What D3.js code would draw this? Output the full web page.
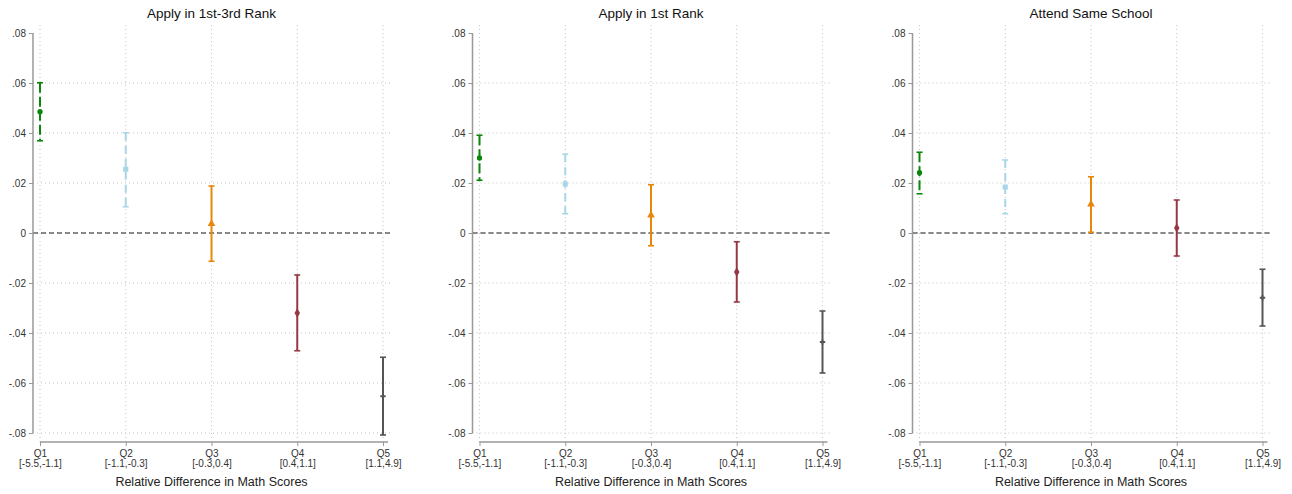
<html>
<head>
    <script src="https://d3js.org/d3.v7.min.js"></script>
    <style>
        body { margin: 0; background: #fff; }
        text { font-family: Arial, "Liberation Sans", Helvetica, sans-serif; }
    </style>
</head>
<body>
    <div id="vis"></div>
</body>
<script>
    // data
    var titles = ["Apply in 1st-3rd Rank", "Apply in 1st Rank", "Attend Same School"];
    var quintiles = ["Q1", "Q2", "Q3", "Q4", "Q5"];
    var ranges = ["[-5.5,-1.1]", "[-1.1,-0.3]", "[-0.3,0.4]", "[0.4,1.1]", "[1.1,4.9]"];
    var yTicks = [-0.08, -0.06, -0.04, -0.02, 0, 0.02, 0.04, 0.06, 0.08];

    var coefRank13 = [0.0485, 0.0255, 0.0037, -0.0320, -0.0653];
    var lowRank13 = [0.0369, 0.0105, -0.0113, -0.0471, -0.0808];
    var highRank13 = [0.0601, 0.0401, 0.0188, -0.0168, -0.0497];

    var coefRank1 = [0.0300, 0.0196, 0.0071, -0.0156, -0.0436];
    var lowRank1 = [0.0211, 0.0077, -0.0051, -0.0276, -0.0560];
    var highRank1 = [0.0391, 0.0315, 0.0193, -0.0035, -0.0312];

    var coefSame = [0.0241, 0.0184, 0.0115, 0.0020, -0.0259];
    var lowSame = [0.0157, 0.0077, 0.0003, -0.0092, -0.0372];
    var highSame = [0.0323, 0.0292, 0.0225, 0.0132, -0.0145];

    var panels = [
        { title: titles[0], coef: coefRank13, low: lowRank13, high: highRank13 },
        { title: titles[1], coef: coefRank1, low: lowRank1, high: highRank1 },
        { title: titles[2], coef: coefSame, low: lowSame, high: highSame }
    ];

    // look of each quintile
    var colors = ["#0b860b", "#a9d6e6", "#e8870c", "#963841", "#555555"];
    var dashes = ["10,4", "8,5", null, null, null];
    var symbols = [d3.symbolCircle, d3.symbolSquare, d3.symbolTriangle, d3.symbolDiamond, d3.symbolCross];
    var symSizes = [22, 26, 26, 26, 16];

    var W = 1292, H = 494;
    var panelX = [0, 439.5, 879.5];

    var svg = d3.select("#vis").append("svg")
        .attr("width", W)
        .attr("height", H);

    var fmt = function (v) {
        if (Math.abs(v) < 1e-9) return "0";
        return (v < 0 ? "-" : "") + Math.abs(v).toFixed(2).replace(/^0/, "");
    };

    panels.forEach(function (p, pi) {
        var g = svg.append("g")
            .attr("transform", "translate(" + panelX[pi] + ",0)");

        var axX = 33, right = 390, axY = 442;

        var x = d3.scaleLinear().domain([1, 5]).range([40, 383]);
        var y = d3.scaleLinear().domain([-0.08, 0.08]).range([433, 33]);

        // title
        g.append("text")
            .attr("x", (axX + right) / 2)
            .attr("y", 18)
            .attr("text-anchor", "middle")
            .style("font-size", "13.5px")
            .style("fill", "#111")
            .text(p.title);

        // grid
        g.append("g").selectAll("line")
            .data(yTicks.filter(function (t) { return t < 0.079; }))
            .enter().append("line")
            .attr("x1", axX).attr("x2", right)
            .attr("y1", function (d) { return y(d); })
            .attr("y2", function (d) { return y(d); })
            .style("stroke", "#c4c4c4")
            .style("stroke-width", 1)
            .style("stroke-dasharray", "1,3");

        g.append("g").selectAll("line")
            .data(d3.range(5))
            .enter().append("line")
            .attr("x1", function (d) { return x(d + 1); })
            .attr("x2", function (d) { return x(d + 1); })
            .attr("y1", 25).attr("y2", axY)
            .style("stroke", "#c4c4c4")
            .style("stroke-width", 1)
            .style("stroke-dasharray", "1,3");

        // zero line
        g.append("line")
            .attr("x1", axX).attr("x2", right)
            .attr("y1", y(0)).attr("y2", y(0))
            .style("stroke", "#1a1a1a")
            .style("stroke-width", 1.2)
            .style("stroke-dasharray", "5,3");

        // y axis
        var yAxis = g.append("g")
            .attr("transform", "translate(" + axX + ",0)")
            .call(d3.axisLeft(y).tickValues(yTicks).tickFormat(fmt).tickSize(4).tickPadding(3));
        yAxis.select(".domain").remove();
        yAxis.append("line")
            .attr("x1", 0).attr("x2", 0)
            .attr("y1", y(0.08)).attr("y2", y(-0.08))
            .style("stroke", "#999").style("stroke-width", 1.5);
        yAxis.selectAll(".tick line").style("stroke", "#999");
        yAxis.selectAll(".tick text")
            .style("font-size", "10px")
            .style("fill", "#333")
            .style("font-family", "Arial, 'Liberation Sans', sans-serif");

        // x axis
        var xAxis = g.append("g")
            .attr("transform", "translate(0," + axY + ")")
            .call(d3.axisBottom(x).tickValues([1, 2, 3, 4, 5]).tickFormat("").tickSize(4));
        xAxis.select(".domain").remove();
        xAxis.append("line")
            .attr("x1", x(1)).attr("x2", 388)
            .attr("y1", 0).attr("y2", 0)
            .style("stroke", "#999").style("stroke-width", 1.5);
        xAxis.selectAll(".tick line").style("stroke", "#999");
        xAxis.selectAll(".tick").each(function (d, i) {
            var t = d3.select(this).append("text")
                .attr("text-anchor", "middle")
                .style("font-size", "10px")
                .style("fill", "#333")
                .style("font-family", "Arial, 'Liberation Sans', sans-serif");
            t.append("tspan").attr("x", 0).attr("y", 15).text(quintiles[i]);
            t.append("tspan").attr("x", 0).attr("y", 25).text(ranges[i]);
        });

        g.append("text")
            .attr("x", (axX + right) / 2)
            .attr("y", 486)
            .attr("text-anchor", "middle")
            .style("font-size", "12.5px")
            .style("fill", "#222")
            .text("Relative Difference in Math Scores");

        // error bars
        var bars = g.append("g").selectAll("g")
            .data(d3.range(5))
            .enter().append("g");

        bars.append("line")
            .attr("x1", function (i) { return x(i + 1); })
            .attr("x2", function (i) { return x(i + 1); })
            .attr("y1", function (i) { return y(p.high[i]); })
            .attr("y2", function (i) { return y(p.low[i]); })
            .style("stroke", function (i) { return colors[i]; })
            .style("stroke-width", 2)
            .style("stroke-dasharray", function (i) { return dashes[i]; });

        [p.high, p.low].forEach(function (arr) {
            bars.append("line")
                .attr("x1", function (i) { return x(i + 1) - 3; })
                .attr("x2", function (i) { return x(i + 1) + 3; })
                .attr("y1", function (i) { return y(arr[i]); })
                .attr("y2", function (i) { return y(arr[i]); })
                .style("stroke", function (i) { return colors[i]; })
                .style("stroke-width", 1.6);
        });

        bars.append("path")
            .attr("transform", function (i) { return "translate(" + x(i + 1) + "," + y(p.coef[i]) + ")"; })
            .attr("d", function (i) { return d3.symbol().type(symbols[i]).size(symSizes[i])(); })
            .style("fill", function (i) { return colors[i]; });
    });
</script>
</html>
